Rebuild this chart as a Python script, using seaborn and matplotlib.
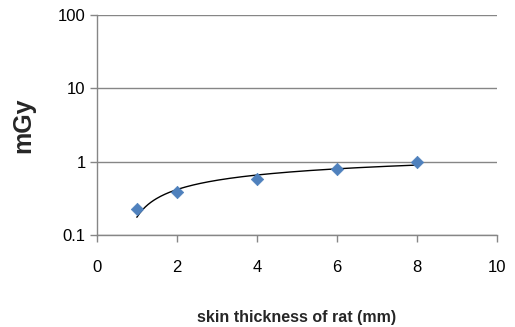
import numpy as np
import pandas as pd
import matplotlib
matplotlib.use("Agg")
import matplotlib.pyplot as plt
import seaborn as sns

thickness = [1, 2, 4, 6, 8]
dose = [0.226, 0.386, 0.575, 0.787, 0.98]
x_ticks = [0, 2, 4, 6, 8, 10]
y_ticks = [0.1, 1, 10, 100]
y_tick_labels = ["0.1", "1", "10", "100"]

sns.set_style("white")
plt.rcParams["font.family"] = ["Liberation Sans", "DejaVu Sans"]

df = pd.DataFrame({"x": thickness, "y": dose})

fig = plt.figure(figsize=(5.15, 3.27), dpi=100)
ax = fig.add_axes([0.188, 0.281, 0.777, 0.673])

# logarithmic trendline fitted to the data
a, b = np.polyfit(np.log(df["x"]), df["y"], 1)
xs = np.linspace(min(thickness), max(thickness), 200)
trend = pd.DataFrame({"x": xs, "y": a * np.log(xs) + b})
sns.lineplot(data=trend, x="x", y="y", ax=ax, color="black", linewidth=1.0, zorder=2)

sns.scatterplot(data=df, x="x", y="y", ax=ax, marker="D", s=40,
                color="#4F81BD", edgecolor="#4F81BD", linewidth=0.5, zorder=3)

ax.set_yscale("log")
ax.set_ylim(0.1, 100)
ax.set_xlim(0, 10)
ax.set_xticks(x_ticks)
ax.set_xticklabels([str(v) for v in x_ticks])
ax.set_yticks(y_ticks)
ax.set_yticklabels(y_tick_labels)
ax.yaxis.set_minor_locator(matplotlib.ticker.NullLocator())

ax.grid(axis="y", color="#868686", linewidth=1.0)
ax.grid(axis="x", visible=False)
ax.set_axisbelow(True)
for s in ["top", "right"]:
    ax.spines[s].set_visible(False)
for s in ["left", "bottom"]:
    ax.spines[s].set_color("#868686")
    ax.spines[s].set_linewidth(1.0)

ax.tick_params(axis="both", which="major", length=5, width=1.0, color="#868686",
               labelsize=12, labelcolor="black", direction="out", bottom=True, left=True)
ax.tick_params(axis="x", pad=13)
ax.tick_params(axis="y", pad=3)

ax.set_xlabel("skin thickness of rat (mm)", fontsize=11.5, fontweight="bold", labelpad=25)
ax.set_ylabel("mGy", fontsize=18, fontweight="bold", labelpad=16)

fig.savefig("out.png", dpi=100)
